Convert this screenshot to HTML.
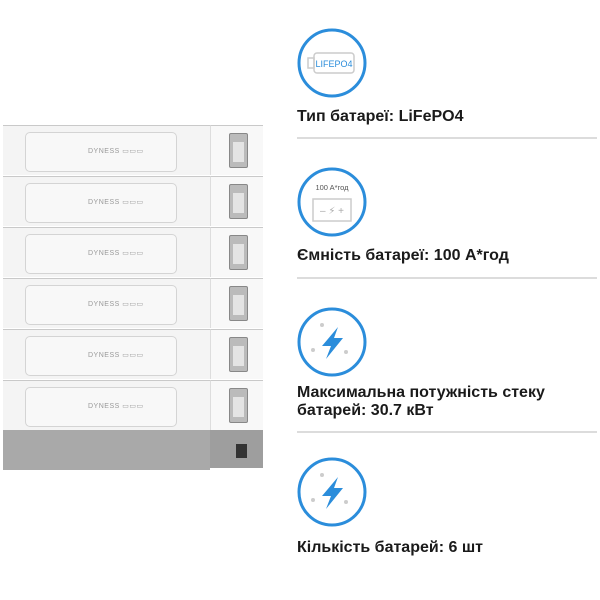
<!DOCTYPE html>
<html><head><meta charset="utf-8"><style>
body{margin:0;width:600px;height:600px;background:#fff;position:relative;overflow:hidden;font-family:"Liberation Sans","DejaVu Sans",sans-serif}
.t{position:absolute;left:297px;font-weight:bold;font-size:16px;color:#1a1a1a;line-height:18px}
.hr{position:absolute;left:297px;width:300px;height:2px;background:#dcdcdc}
.mod{position:absolute;left:3px;width:259px;height:51px}
.front{position:absolute;left:0;top:0;width:207px;height:50px;background:#f4f4f4;border-top:1px solid #c9c9c9;box-sizing:border-box}
.side{position:absolute;left:207px;top:0;width:53px;height:50px;background:#f8f8f8;border-top:1px solid #c9c9c9;border-left:1px solid #ddd;box-sizing:border-box}
.panel{position:absolute;left:22px;top:6px;width:150px;height:38px;border:1px solid #d4d4d4;border-radius:5px;background:#f8f8f8}
.logo{position:absolute;left:62px;top:14px;font-size:7px;color:#999;letter-spacing:.5px}
.h{position:absolute;left:18px;top:7px;width:17px;height:33px;background:#bbb;border:1px solid #888;border-radius:2px}
.h i{position:absolute;left:3px;top:8px;width:11px;height:20px;background:#e4e4e4}
</style></head><body>
<div class="mod" style="top:125px"><div class="front"><div class="panel"><span class="logo">DYNESS ▭▭▭</span></div></div><div class="side"><div class="h"><i></i></div></div></div>
<div class="mod" style="top:176px"><div class="front"><div class="panel"><span class="logo">DYNESS ▭▭▭</span></div></div><div class="side"><div class="h"><i></i></div></div></div>
<div class="mod" style="top:227px"><div class="front"><div class="panel"><span class="logo">DYNESS ▭▭▭</span></div></div><div class="side"><div class="h"><i></i></div></div></div>
<div class="mod" style="top:278px"><div class="front"><div class="panel"><span class="logo">DYNESS ▭▭▭</span></div></div><div class="side"><div class="h"><i></i></div></div></div>
<div class="mod" style="top:329px"><div class="front"><div class="panel"><span class="logo">DYNESS ▭▭▭</span></div></div><div class="side"><div class="h"><i></i></div></div></div>
<div class="mod" style="top:380px"><div class="front"><div class="panel"><span class="logo">DYNESS ▭▭▭</span></div></div><div class="side"><div class="h"><i></i></div></div></div>
<div style="position:absolute;left:3px;top:430px;width:207px;height:40px;background:#a9a9a9"></div>
<div style="position:absolute;left:210px;top:430px;width:53px;height:38px;background:#9e9e9e"></div>
<div style="position:absolute;left:236px;top:444px;width:11px;height:14px;background:#333"></div>

<svg style="position:absolute;left:0;top:0" width="600" height="600">
<g fill="none" stroke="#2b8ddb" stroke-width="3">
<circle cx="332" cy="63" r="33"/><circle cx="332" cy="202" r="33"/><circle cx="332" cy="342" r="33"/><circle cx="332" cy="492" r="33"/>
</g>
<rect x="314" y="53" width="40" height="20" rx="3" fill="none" stroke="#ccc" stroke-width="1.5"/>
<rect x="308" y="58" width="6" height="10" fill="none" stroke="#ccc" stroke-width="1.5"/>
<text x="334" y="67" font-size="9" fill="#2b8ddb" text-anchor="middle" font-family="Liberation Sans">LIFEPO4</text>
<text x="332" y="190" font-size="7.5" fill="#555" text-anchor="middle" font-family="Liberation Sans">100 A*год</text>
<rect x="313" y="199" width="38" height="22" fill="none" stroke="#ccc" stroke-width="1.5"/>
<text x="332" y="214" font-size="10" fill="#aaa" text-anchor="middle">– ⚡ +</text>
<path d="M338 327 L322 346 L331 346 L326 359 L343 338 L334 338 Z" fill="#2b8ddb"/>
<path d="M338 477 L322 496 L331 496 L326 509 L343 488 L334 488 Z" fill="#2b8ddb"/>
<g fill="#ccc"><circle cx="322" cy="325" r="2"/><circle cx="313" cy="350" r="2"/><circle cx="346" cy="352" r="2"/><circle cx="322" cy="475" r="2"/><circle cx="313" cy="500" r="2"/><circle cx="346" cy="502" r="2"/></g>
</svg>
<div class="t" style="top:108px">Тип батареї: LiFePO4</div>
<div class="hr" style="top:137px"></div>
<div class="t" style="top:247px">Ємність батареї: 100 А*год</div>
<div class="hr" style="top:277px"></div>
<div class="t" style="top:384px">Максимальна потужність стеку<br>батарей: 30.7 кВт</div>
<div class="hr" style="top:431px"></div>
<div class="t" style="top:539px">Кількість батарей: 6 шт</div>
</body></html>
